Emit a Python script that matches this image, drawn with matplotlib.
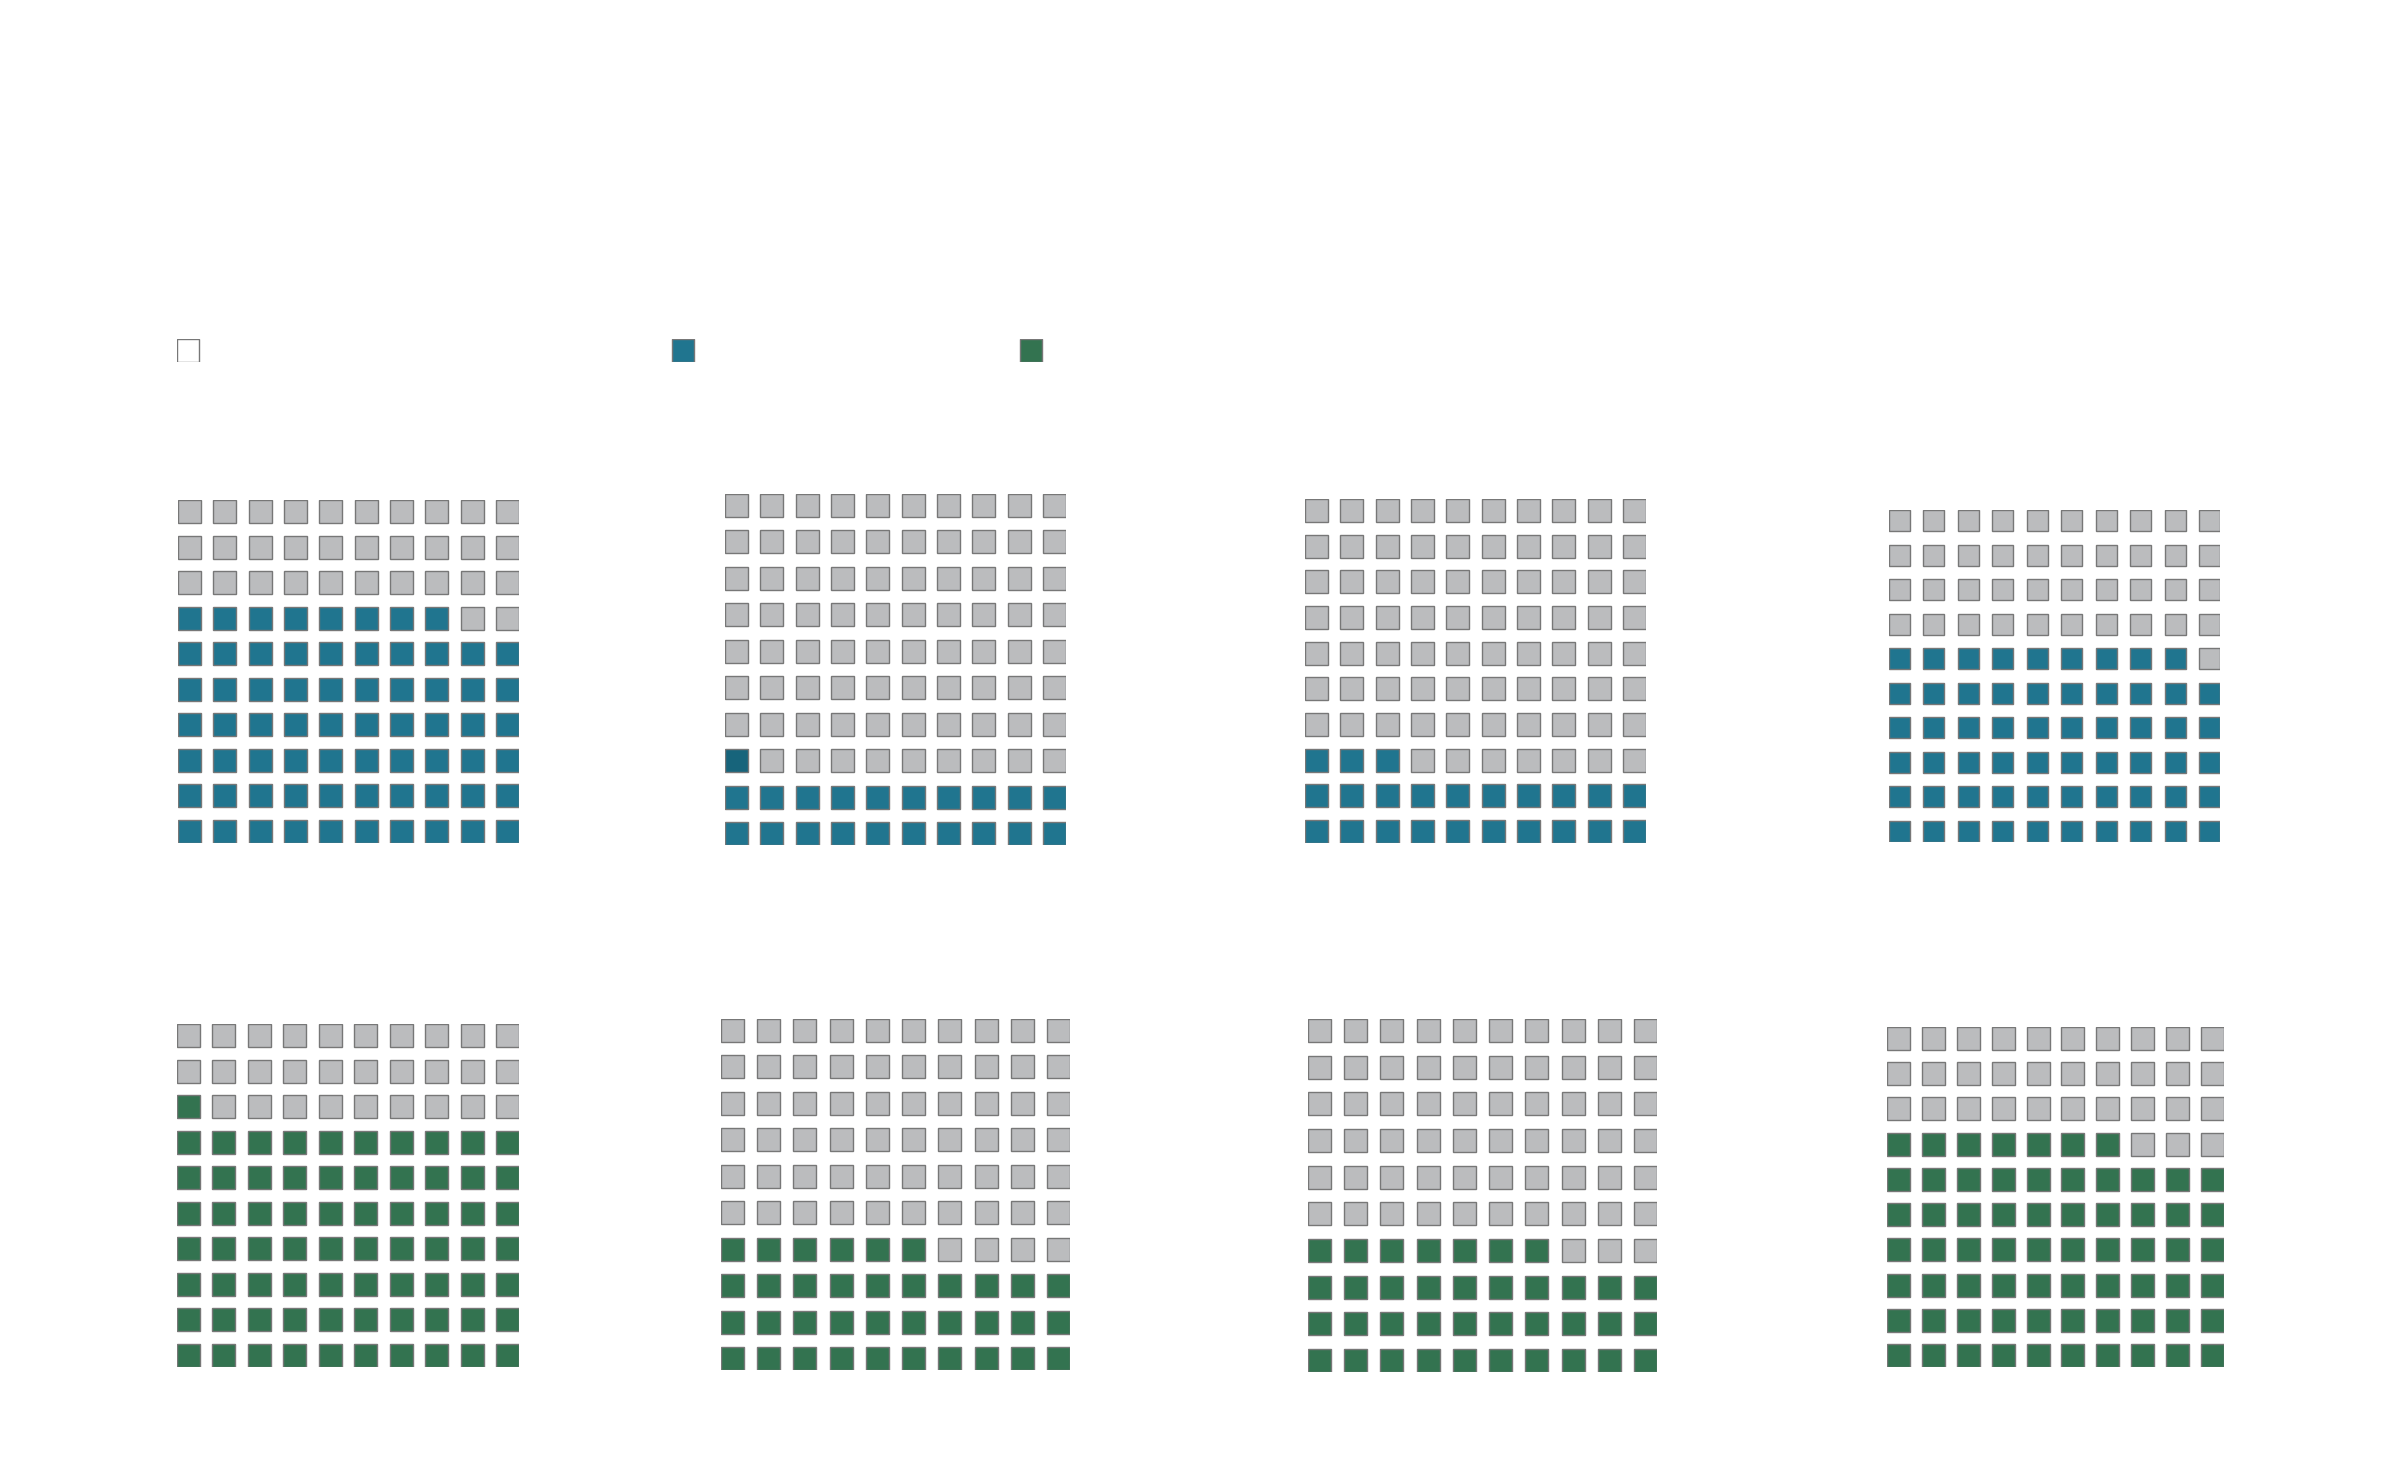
import numpy as np
import matplotlib
matplotlib.use('Agg')
import matplotlib.pyplot as plt
from matplotlib.patches import Rectangle

# waffle values (filled cells out of 100)
blue_values = [68, 21, 23, 59]
green_values = [71, 36, 37, 67]

BLUE = '#20758f'
BLUE_DARK = '#17647b'
GREEN = '#337350'
GRAY = '#bbbcbe'
EDGE = '#777777'

legend_colors = ['white', BLUE, GREEN]

# panel boxes in pixels (x0, y0, x1, y1) and square size
top_boxes = [(178, 500, 519, 843), (725, 494, 1066, 845),
             (1305, 499, 1646, 843), (1889, 510, 2220, 842)]
bottom_boxes = [(177, 1024, 519, 1367), (721, 1019, 1070, 1370),
                (1308, 1019, 1657, 1372), (1887, 1027, 2224, 1367)]
square_px = [23, 23, 23, 21, 23, 23, 23, 23]

W, H = 2400, 1484
fig = plt.figure(figsize=(W / 100, H / 100), dpi=100)
fig.patch.set_facecolor('white')


def add_axes_px(x0, y0, x1, y1):
    return fig.add_axes([x0 / W, 1 - y1 / H, (x1 - x0) / W, (y1 - y0) / H])


def draw_waffle(box, value, color, sq, dark_first_partial=False):
    x0, y0, x1, y1 = box
    ax = add_axes_px(x0, y0, x1, y1)
    pitch_x = (x1 - x0 - sq) / 9
    pitch_y = (y1 - y0 - sq) / 9
    sx = sq / pitch_x
    sy = sq / pitch_y
    for r in range(10):
        for c in range(10):
            k = r * 10 + c
            fc = color if k < value else GRAY
            if dark_first_partial and k == value - 1 and value % 10 == 1:
                fc = BLUE_DARK
            ax.add_patch(Rectangle((c, r), sx, sy, facecolor=fc,
                                   edgecolor=EDGE, linewidth=1.0))
    ax.set_xlim(0, 9 + sx)
    ax.set_ylim(0, 9 + sy)
    ax.axis('off')
    return ax


for i, (box, v) in enumerate(zip(top_boxes, blue_values)):
    draw_waffle(box, v, BLUE, square_px[i], dark_first_partial=(i == 1))

for i, (box, v) in enumerate(zip(bottom_boxes, green_values)):
    draw_waffle(box, v, GREEN, square_px[i + 4])

# legend keys (no text in the original)
leg_ax = add_axes_px(177, 339, 1045, 362)
leg_x = [0, 495, 843]
for lx, col in zip(leg_x, legend_colors):
    leg_ax.add_patch(Rectangle((lx, 0), 22, 23, facecolor=col,
                               edgecolor=EDGE, linewidth=1.0))
leg_ax.set_xlim(0, 868)
leg_ax.set_ylim(0, 23)
leg_ax.axis('off')

plt.savefig('out.png', dpi=100, facecolor='white')
plt.close()
